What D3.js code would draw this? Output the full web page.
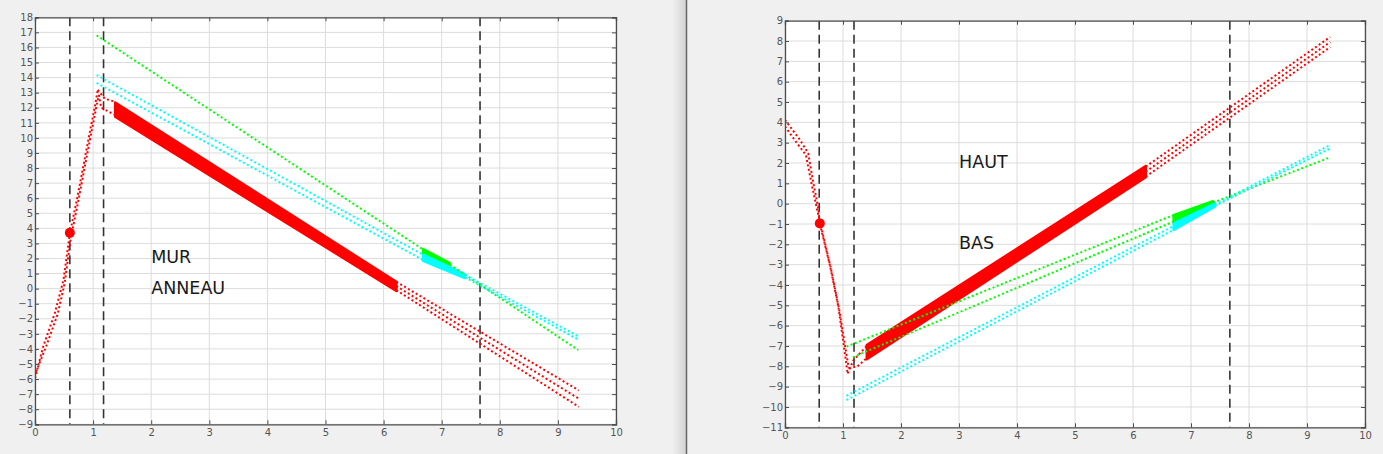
<!DOCTYPE html>
<html>
<head>
<meta charset="utf-8">
<script src="https://cdn.jsdelivr.net/npm/d3@7"></script>
<style>
  html,body{margin:0;padding:0;background:#f0f0f0;}
  svg{display:block;}
</style>
</head>
<body>
<script>
// ---------------- DATA ----------------
const xTicks = [0,1,2,3,4,5,6,7,8,9,10];
const murYTicks = d3.range(-9, 19, 1);
const hautYTicks = d3.range(-11, 10, 1);

// Left panel (MUR / ANNEAU)
const murVLines = [0.6, 1.18, 7.66];
const murMarker = [[0.6, 3.7]];
const murLabels = ["MUR", "ANNEAU"];
const murLabelX = [2, 2];
const murLabelY = [2, 0];

const murRedRiseA = [[0,-5.95],[0.14,-3.86],[0.34,-1.64],[0.49,0.57],[0.6,3.67],[0.72,5.88],[0.83,8.09],[0.95,10.52],[1.03,12.07],[1.08,13.18]];
const murRedRiseB = [[0.02,-5.5],[0.2,-3.75],[0.39,-1.7],[0.51,0.35],[0.62,3.45],[0.74,5.7],[0.85,7.95],[0.97,10.35],[1.05,11.95],[1.1,12.85]];
const murRedTransA = [[1.08,13.18],[1.2,12.6],[1.38,12.4]];
const murRedTransB = [[1.1,12.85],[1.14,12.0],[1.38,11.52]];
const murRedBandTop = [[1.38,12.35],[6.22,0.45]];
const murRedBandBot = [[1.38,11.4],[6.22,-0.15]];
const murRedTailA = [[6.22,0.45],[9.36,-6.75]];
const murRedTailB = [[6.22,0.17],[9.36,-7.3]];
const murRedTailC = [[6.22,-0.1],[9.36,-7.84]];

const murGreenLine = [[1.06,16.8],[6.68,2.6]];
const murGreenBandTop = [[6.68,2.62],[7.14,1.7]];
const murGreenBandBot = [[6.68,2.3],[7.14,1.45]];
const murGreenTail = [[7.14,1.6],[9.35,-4.07]];

const murCyanLineA = [[1.06,14.17],[6.68,2.25]];
const murCyanLineB = [[1.06,13.65],[6.68,1.9]];
const murCyanBandTop = [[6.68,2.25],[7.4,0.95]];
const murCyanBandBot = [[6.68,1.85],[7.4,0.7]];
const murCyanTailA = [[7.4,0.92],[9.37,-3.2]];
const murCyanTailB = [[7.4,0.75],[9.37,-3.42]];

// Right panel (HAUT / BAS)
const hautVLines = [0.59, 1.19, 7.67];
const hautMarker = [[0.6, -0.97]];
const hautLabels = ["HAUT", "BAS"];
const hautLabelX = [3, 3];
const hautLabelY = [2, -2];

const hautRedRiseA = [[0,4.12],[0.26,3.13],[0.4,2.48],[0.49,1.0],[0.57,-0.15],[0.6,-0.97],[0.78,-3.1],[0.92,-5.07],[1.0,-6.7],[1.08,-8.35]];
const hautRedRiseB = [[0,3.8],[0.2,3.0],[0.36,2.4],[0.46,0.95],[0.55,-0.25],[0.62,-1.1],[0.8,-3.3],[0.94,-5.3],[1.03,-6.9],[1.1,-8.1]];
const hautRedTransA = [[1.08,-8.35],[1.18,-7.7],[1.41,-7.0]];
const hautRedTransB = [[1.1,-8.1],[1.25,-8.0],[1.41,-7.6]];
const hautRedBandTop = [[1.41,-6.95],[6.22,1.85]];
const hautRedBandBot = [[1.41,-7.65],[6.22,1.3]];
const hautRedTailA = [[6.22,1.82],[9.4,8.2]];
const hautRedTailB = [[6.22,1.57],[9.4,7.95]];
const hautRedTailC = [[6.22,1.33],[9.4,7.7]];

const hautGreenLineA = [[1.06,-7.03],[6.7,-0.56]];
const hautGreenLineB = [[1.17,-7.55],[6.7,-0.88]];
const hautGreenBandTop = [[6.7,-0.56],[7.38,0.12]];
const hautGreenBandBot = [[6.7,-0.88],[7.38,-0.1]];
const hautGreenTail = [[7.38,0.05],[9.4,2.28]];

const hautCyanLineA = [[1.06,-9.66],[6.7,-1.29]];
const hautCyanLineB = [[1.06,-9.45],[6.7,-1.1]];
const hautCyanBandTop = [[6.7,-0.97],[7.41,0.0]];
const hautCyanBandBot = [[6.7,-1.29],[7.41,-0.15]];
const hautCyanTailA = [[7.41,-0.05],[9.4,2.89]];
const hautCyanTailB = [[7.41,-0.12],[9.4,2.72]];

// ---------------- DRAWING ----------------
const W = 1383, H = 454;
const RED = "#ff0000", GREEN = "#00ff00", CYAN = "#00ffff";

const svg = d3.select("body").append("svg").attr("width", W).attr("height", H);
svg.append("rect").attr("width", W).attr("height", H).attr("fill", "#f0f0f0");

// divider between the two figure windows
const defs = svg.append("defs");
const grad = defs.append("linearGradient").attr("id","divgrad").attr("x1","0").attr("x2","1");
grad.append("stop").attr("offset","0").attr("stop-color","#f0f0f0");
grad.append("stop").attr("offset","1").attr("stop-color","#d4d4d4");
svg.append("rect").attr("x",672).attr("y",0).attr("width",14).attr("height",H).attr("fill","url(#divgrad)");
svg.append("line").attr("x1",686.5).attr("x2",686.5).attr("y1",0).attr("y2",H).attr("stroke","#666").attr("stroke-width",1.5);

function drawPanel(id, box, yDomain, yTicks, vlines, marker, labels, lx, ly, dotted, bands) {
  const x = d3.scaleLinear().domain([0,10]).range([box.x0, box.x1]);
  const y = d3.scaleLinear().domain(yDomain).range([box.y1, box.y0]);
  const g = svg.append("g");
  const w = box.x1 - box.x0, h = box.y1 - box.y0;

  defs.append("clipPath").attr("id","clip"+id)
    .append("rect").attr("x",box.x0).attr("y",box.y0).attr("width",w).attr("height",h);

  g.append("rect").attr("x",box.x0).attr("y",box.y0).attr("width",w).attr("height",h).attr("fill","#fff");

  // grid
  g.append("g").selectAll("line").data(xTicks).join("line")
    .attr("x1",d=>x(d)).attr("x2",d=>x(d)).attr("y1",box.y0).attr("y2",box.y1)
    .attr("stroke","#dcdcdc").attr("stroke-width",1);
  g.append("g").selectAll("line").data(yTicks).join("line")
    .attr("x1",box.x0).attr("x2",box.x1).attr("y1",d=>y(d)).attr("y2",d=>y(d))
    .attr("stroke","#dcdcdc").attr("stroke-width",1);

  const plot = g.append("g").attr("clip-path","url(#clip"+id+")");
  const line = d3.line().x(d=>x(d[0])).y(d=>y(d[1]));

  // dashed vertical lines
  plot.selectAll("line.v").data(vlines).join("line").attr("class","v")
    .attr("x1",d=>x(d)).attr("x2",d=>x(d)).attr("y1",box.y0).attr("y2",box.y1)
    .attr("stroke","#333").attr("stroke-width",1.6).attr("stroke-dasharray","9,5");

  // bands (solid thick segments)
  bands.forEach(b => {
    const poly = b.top.concat(b.bot.slice().reverse());
    plot.append("path").attr("d", line(poly) + "Z")
      .attr("fill", b.color).attr("stroke", b.color).attr("stroke-width", 2.5).attr("stroke-linejoin","round");
  });

  // dotted series
  dotted.forEach(s => {
    plot.append("path").attr("d", line(s.pts)).attr("fill","none")
      .attr("stroke", s.color).attr("stroke-width", 2).attr("stroke-dasharray","2,2.5");
  });

  // marker
  plot.selectAll("circle").data(marker).join("circle")
    .attr("cx",d=>x(d[0])).attr("cy",d=>y(d[1])).attr("r",5).attr("fill",RED);

  // axes: ticks inward on all four sides
  const tickCol = "#4d4d4d";
  const axB = g.append("g").attr("transform",`translate(0,${box.y1})`)
    .call(d3.axisBottom(x).tickValues(xTicks).tickSize(-4).tickPadding(5).tickFormat(d3.format("d")));
  const axT = g.append("g").attr("transform",`translate(0,${box.y0})`)
    .call(d3.axisTop(x).tickValues(xTicks).tickSize(-4).tickFormat(""));
  const axL = g.append("g").attr("transform",`translate(${box.x0},0)`)
    .call(d3.axisLeft(y).tickValues(yTicks).tickSize(-4).tickPadding(2).tickFormat(d3.format("d")));
  const axR = g.append("g").attr("transform",`translate(${box.x1},0)`)
    .call(d3.axisRight(y).tickValues(yTicks).tickSize(-4).tickFormat(""));
  [axB,axT,axL,axR].forEach(a => {
    a.select(".domain").attr("stroke", tickCol).attr("stroke-width",1.3);
    a.selectAll(".tick line").attr("stroke", tickCol).attr("stroke-width",1);
    a.selectAll("text").attr("fill","#555").style("font-family","DejaVu Sans, sans-serif").style("font-size","10px");
  });

  // text labels
  g.selectAll("text.lab").data(labels).join("text").attr("class","lab")
    .attr("x",(d,i)=>x(lx[i])).attr("y",(d,i)=>y(ly[i]))
    .attr("dominant-baseline","middle").attr("text-anchor","start")
    .style("font-family","DejaVu Sans, sans-serif").style("font-size","17.5px").attr("fill","#1a1a1a")
    .text(d=>d);
}

drawPanel("L", {x0:35, x1:616, y0:17.3, y1:424.3}, [-9,18], murYTicks, murVLines, murMarker,
  murLabels, murLabelX, murLabelY,
  [
    {color:RED, pts:murRedRiseA},{color:RED, pts:murRedRiseB},
    {color:RED, pts:murRedTransA},{color:RED, pts:murRedTransB},
    {color:RED, pts:murRedTailA},{color:RED, pts:murRedTailB},{color:RED, pts:murRedTailC},
    {color:GREEN, pts:murGreenLine},{color:GREEN, pts:murGreenTail},
    {color:CYAN, pts:murCyanLineA},{color:CYAN, pts:murCyanLineB},
    {color:CYAN, pts:murCyanTailA},{color:CYAN, pts:murCyanTailB}
  ],
  [
    {color:RED, top:murRedBandTop, bot:murRedBandBot},
    {color:GREEN, top:murGreenBandTop, bot:murGreenBandBot},
    {color:CYAN, top:murCyanBandTop, bot:murCyanBandBot}
  ]);

drawPanel("R", {x0:785, x1:1365, y0:20.7, y1:427.3}, [-11,9], hautYTicks, hautVLines, hautMarker,
  hautLabels, hautLabelX, hautLabelY,
  [
    {color:RED, pts:hautRedRiseA},{color:RED, pts:hautRedRiseB},
    {color:RED, pts:hautRedTransA},{color:RED, pts:hautRedTransB},
    {color:RED, pts:hautRedTailA},{color:RED, pts:hautRedTailB},{color:RED, pts:hautRedTailC},
    {color:GREEN, pts:hautGreenLineA},{color:GREEN, pts:hautGreenLineB},{color:GREEN, pts:hautGreenTail},
    {color:CYAN, pts:hautCyanLineA},{color:CYAN, pts:hautCyanLineB},
    {color:CYAN, pts:hautCyanTailA},{color:CYAN, pts:hautCyanTailB}
  ],
  [
    {color:RED, top:hautRedBandTop, bot:hautRedBandBot},
    {color:GREEN, top:hautGreenBandTop, bot:hautGreenBandBot},
    {color:CYAN, top:hautCyanBandTop, bot:hautCyanBandBot}
  ]);
</script>
</body>
</html>
